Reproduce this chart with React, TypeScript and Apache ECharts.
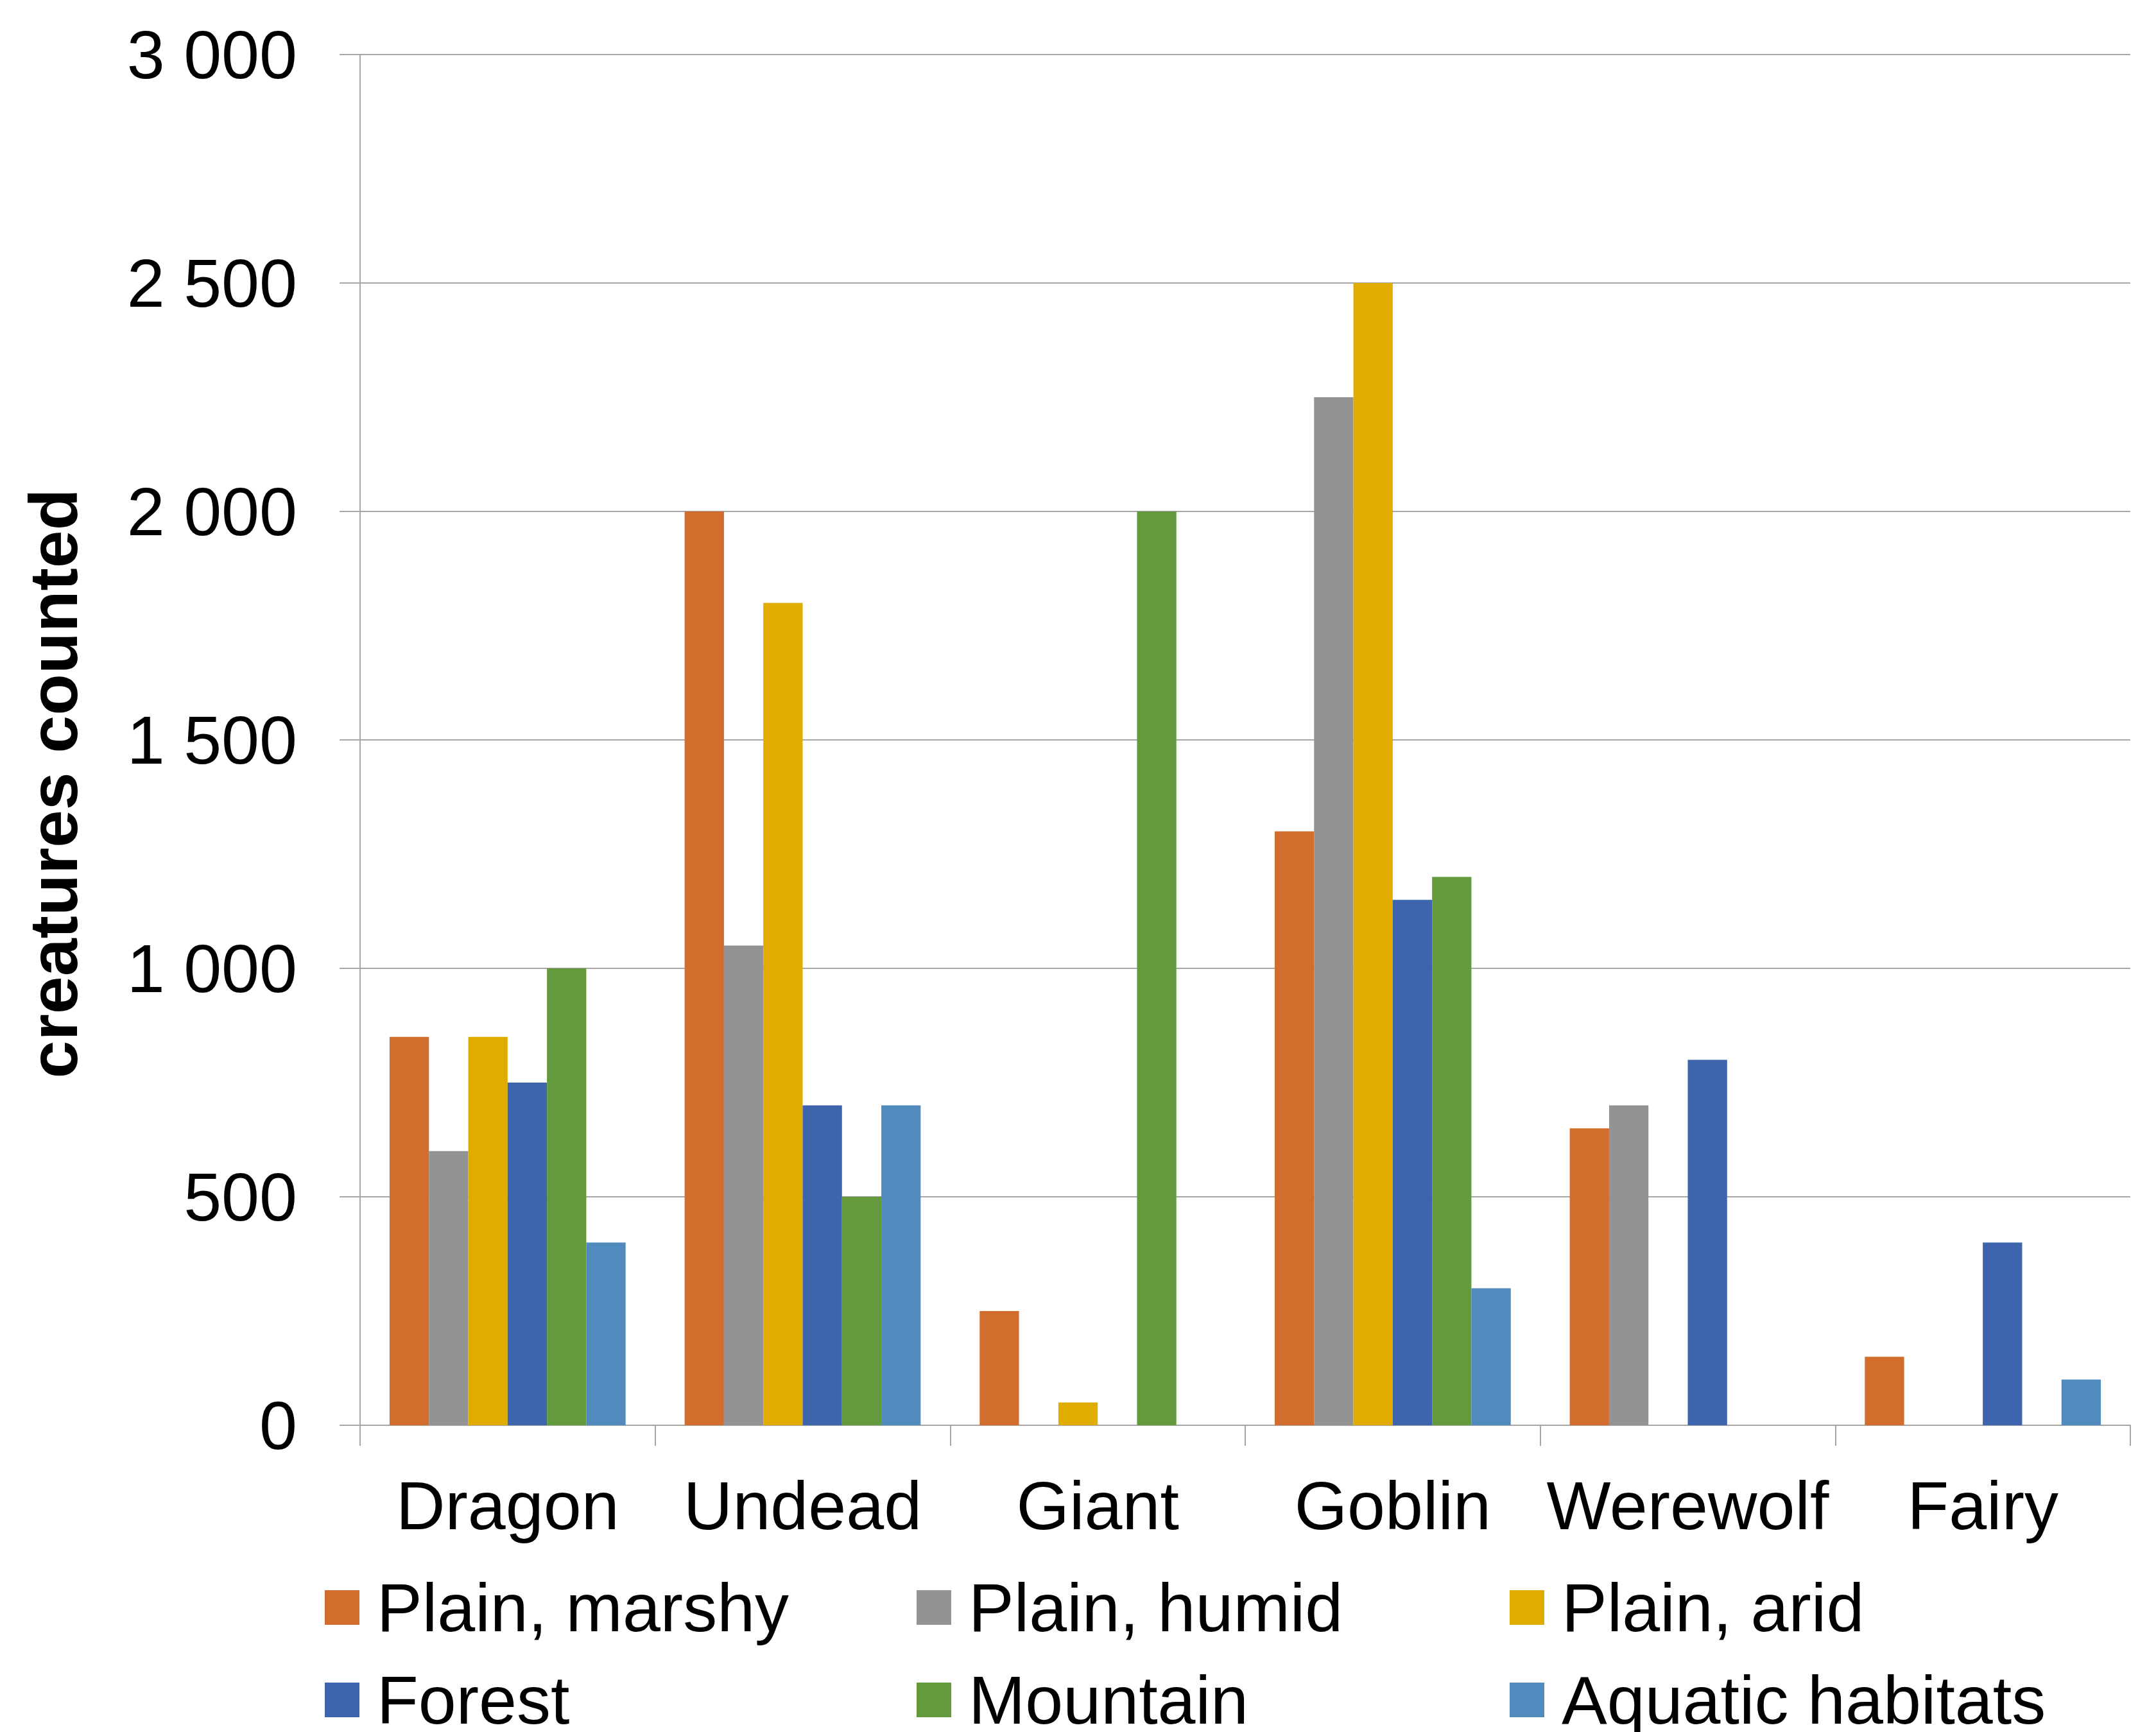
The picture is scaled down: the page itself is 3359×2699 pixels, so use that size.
import React, { useEffect, useRef } from "react";
import * as echarts from "echarts";

const categories = ["Dragon", "Undead", "Giant", "Goblin", "Werewolf", "Fairy"];
const seriesNames = [
  "Plain, marshy",
  "Plain, humid",
  "Plain, arid",
  "Forest",
  "Mountain",
  "Aquatic habitats",
];
const plainMarshy = [850, 2000, 250, 1300, 650, 150];
const plainHumid = [600, 1050, null, 2250, 700, null];
const plainArid = [850, 1800, 50, 2500, null, null];
const forest = [750, 700, null, 1150, 800, 400];
const mountain = [1000, 500, 2000, 1200, null, null];
const aquatic = [400, 700, null, 300, null, 100];
const seriesValues = [plainMarshy, plainHumid, plainArid, forest, mountain, aquatic];
const colors = ["#D26E2D", "#939393", "#E1AC00", "#3E64AD", "#639A3E", "#518BBE"];
const yTitle = "creatures counted";

const FONT = "'Liberation Sans', Arial, sans-serif";

export default function App() {
  const ref = useRef<HTMLDivElement>(null);
  useEffect(() => {
    document.body.style.margin = "0";
    if (!ref.current) return;
    const chart = echarts.init(ref.current, null, { renderer: "svg" });
    const legendPos = [
      [506, 2450],
      [1428, 2450],
      [2352, 2450],
      [506, 2594],
      [1428, 2594],
      [2352, 2594],
    ];
    chart.setOption({
      animation: false,
      backgroundColor: "#ffffff",
      grid: { left: 561, right: 40, top: 85, bottom: 478, containLabel: false },
      xAxis: {
        type: "category",
        data: categories,
        axisLine: { show: true, lineStyle: { color: "#a6a6a6", width: 2 } },
        axisTick: { show: true, length: 32, lineStyle: { color: "#a6a6a6", width: 2 } },
        axisLabel: {
          fontSize: 106,
          lineHeight: 106,
          margin: 72,
          color: "#000",
          fontFamily: FONT,
          interval: 0,
        },
      },
      yAxis: {
        type: "value",
        min: 0,
        max: 3000,
        interval: 500,
        axisLine: { show: true, lineStyle: { color: "#a6a6a6", width: 2 } },
        axisTick: { show: true, length: 32, lineStyle: { color: "#a6a6a6", width: 2 } },
        splitLine: { show: true, lineStyle: { color: "#a6a6a6", width: 2 } },
        axisLabel: {
          fontSize: 106,
          margin: 98,
          color: "#000",
          fontFamily: FONT,
          formatter: (v: number) => String(v).replace(/\B(?=(\d{3})+(?!\d))/g, " "),
        },
      },
      legend: seriesNames.map((n, i) => ({
        data: [n],
        left: legendPos[i][0],
        top: legendPos[i][1],
        padding: 0,
        itemWidth: 54,
        itemHeight: 54,
        icon: "rect",
        selectedMode: false,
        textStyle: {
          fontSize: 106,
          lineHeight: 106,
          color: "#000",
          fontFamily: FONT,
          padding: [0, 0, 4, 22],
        },
      })),
      graphic: [
        {
          type: "text",
          x: 83,
          y: 1221,
          rotation: Math.PI / 2,
          style: {
            text: yTitle,
            fontSize: 106,
            fontWeight: "bold",
            fontFamily: FONT,
            fill: "#000",
            align: "center",
            verticalAlign: "middle",
          },
        },
      ],
      series: seriesNames.map((n, i) => ({
        name: n,
        type: "bar",
        data: seriesValues[i],
        barGap: "0%",
        barCategoryGap: "20%",
        itemStyle: { color: colors[i] },
      })),
    });
    return () => chart.dispose();
  }, []);
  return <div ref={ref} style={{ width: "100vw", height: "100vh" }} />;
}
